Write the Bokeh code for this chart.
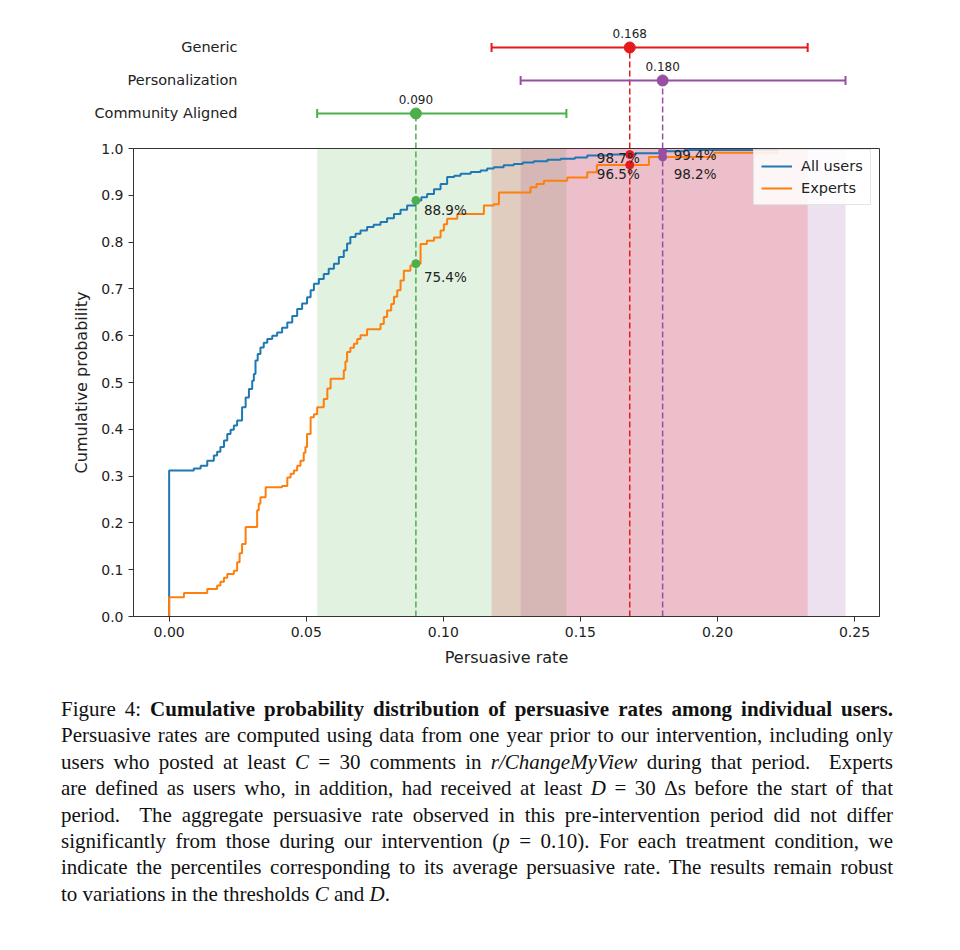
import numpy as np
from bokeh.plotting import figure
from bokeh.models import (Range1d, LinearAxis, FixedTicker, PrintfTickFormatter,
                          BoxAnnotation, Legend, LegendItem, Div)
from bokeh.layouts import column
from bokeh.core.properties import value
from bokeh.embed import file_html
from bokeh.resources import INLINE

# ---------------- data ----------------
conditions = ["Generic", "Personalization", "Community Aligned"]
cond_means = [0.168, 0.180, 0.090]
cond_ci_low = [0.1176, 0.1282, 0.0540]
cond_ci_high = [0.2329, 0.2467, 0.1449]
pct_all_users = [98.7, 99.4, 88.9]
pct_experts = [96.5, 98.2, 75.4]

all_x = [0.000, 0.000, 0.0090, 0.0115, 0.0139, 0.0163, 0.0175, 0.0187, 0.0200, 0.0212,
         0.0224, 0.0236, 0.0248, 0.0266, 0.0279, 0.0291, 0.0303, 0.0309, 0.0315, 0.0323,
         0.0333, 0.0345, 0.0358, 0.0376, 0.0394, 0.0412, 0.0431, 0.0449, 0.0467, 0.0485,
         0.0503, 0.0516, 0.0528, 0.0546, 0.0564, 0.0582, 0.0601, 0.0619, 0.0637, 0.0649,
         0.0661, 0.0680, 0.0698, 0.0722, 0.0746, 0.0771, 0.0795, 0.0820, 0.0844, 0.0868,
         0.0898, 0.0920, 0.0941, 0.0966, 0.0990, 0.1014, 0.1040, 0.1063, 0.1100, 0.1136,
         0.1160, 0.1184, 0.1220, 0.1257, 0.1290, 0.1330, 0.1380, 0.1428, 0.1480, 0.1525,
         0.1600, 0.1700, 0.1800, 0.1880, 0.2220]
all_y = [0.000, 0.312, 0.316, 0.322, 0.333, 0.344, 0.352, 0.362, 0.376, 0.390,
         0.399, 0.408, 0.419, 0.447, 0.468, 0.486, 0.504, 0.518, 0.547, 0.561,
         0.575, 0.585, 0.593, 0.600, 0.607, 0.617, 0.628, 0.642, 0.657, 0.669,
         0.682, 0.697, 0.711, 0.721, 0.732, 0.743, 0.754, 0.768, 0.782, 0.797,
         0.811, 0.818, 0.825, 0.832, 0.837, 0.843, 0.851, 0.860, 0.869, 0.878,
         0.889, 0.896, 0.903, 0.913, 0.924, 0.939, 0.942, 0.946, 0.950, 0.953,
         0.957, 0.960, 0.964, 0.967, 0.970, 0.973, 0.976, 0.978, 0.981, 0.985,
         0.987, 0.990, 0.994, 0.997, 1.000]

exp_x = [0.000, 0.000, 0.0054, 0.0139, 0.0175, 0.0187, 0.0200, 0.0212, 0.0236, 0.0248,
         0.0257, 0.0266, 0.0279, 0.0321, 0.0327, 0.0333, 0.0352, 0.0412, 0.0431, 0.0443,
         0.0455, 0.0467, 0.0479, 0.0491, 0.0497, 0.0503, 0.0516, 0.0528, 0.0540, 0.0564,
         0.0577, 0.0589, 0.0637, 0.0643, 0.0649, 0.0661, 0.0674, 0.0686, 0.0698, 0.0722,
         0.0771, 0.0783, 0.0795, 0.0810, 0.0820, 0.0832, 0.0844, 0.0856, 0.0880, 0.0898,
         0.0917, 0.0940, 0.0966, 0.0990, 0.1002, 0.1014, 0.1051, 0.1148, 0.1184, 0.1203,
         0.1318, 0.1340, 0.1367, 0.1452, 0.1525, 0.1560, 0.1750, 0.1988, 0.2220]
exp_y = [0.000, 0.041, 0.050, 0.059, 0.066, 0.074, 0.083, 0.091, 0.098, 0.116,
         0.135, 0.155, 0.191, 0.227, 0.241, 0.255, 0.276, 0.279, 0.297, 0.305,
         0.312, 0.322, 0.333, 0.350, 0.362, 0.390, 0.426, 0.432, 0.447, 0.465,
         0.487, 0.508, 0.526, 0.545, 0.565, 0.574, 0.583, 0.593, 0.601, 0.614,
         0.625, 0.640, 0.654, 0.668, 0.683, 0.697, 0.718, 0.739, 0.750, 0.754,
         0.796, 0.803, 0.810, 0.825, 0.838, 0.850, 0.860, 0.878, 0.881, 0.906,
         0.917, 0.924, 0.931, 0.938, 0.949, 0.965, 0.982, 0.991, 0.995]

x_ticks = [0.00, 0.05, 0.10, 0.15, 0.20, 0.25]
y_ticks = [0.0, 0.1, 0.2, 0.3, 0.4, 0.5, 0.6, 0.7, 0.8, 0.9, 1.0]

caption_lines = [
    'Figure 4: <b>Cumulative probability distribution of persuasive rates among individual users.</b>',
    'Persuasive rates are computed using data from one year prior to our intervention, including only',
    'users who posted at least <i>C</i> = 30 comments in <i>r/ChangeMyView</i> during that period.&nbsp; Experts',
    'are defined as users who, in addition, had received at least <i>D</i> = 30 &Delta;s before the start of that',
    'period.&nbsp; The aggregate persuasive rate observed in this pre-intervention period did not differ',
    'significantly from those during our intervention (<i>p</i> = 0.10). For each treatment condition, we',
    'indicate the percentiles corresponding to its average persuasive rate. The results remain robust',
    'to variations in the thresholds <i>C</i> and <i>D</i>.',
]

# ---------------- styles ----------------
cond_colors = ["#e41a1c", "#984ea3", "#4daf4a"]
FONT = "DejaVu Sans"
AX = "#333333"
TXT = "#222222"
X0, X1 = -0.0130, 0.2591
TOP_Y0, TOP_Y1 = -0.0606, 4.4242
rows = [3, 2, 1]                      # Generic, Personalization, Community Aligned

# ---------------- top panel: treatment means with CIs ----------------
top = figure(width=900, height=148, x_range=Range1d(X0, X1), y_range=Range1d(TOP_Y0, TOP_Y1),
             output_backend="svg", toolbar_location=None, x_axis_type=None, y_axis_type=None,
             min_border_left=133, min_border_right=21, min_border_top=0, min_border_bottom=0)
top.outline_line_color = None

tay = LinearAxis(ticker=FixedTicker(ticks=rows),
                 major_label_overrides={r: c for r, c in zip(rows, conditions)})
tay.axis_line_color = None
tay.major_tick_line_color = None
tay.minor_tick_line_color = None
tay.major_tick_out = 0
tay.major_label_standoff = -104
tay.major_label_text_font = FONT
tay.major_label_text_font_size = "14.5px"
tay.major_label_text_color = TXT
top.add_layout(tay, "left")

top.segment(x0=cond_means, y0=[TOP_Y0] * 3, x1=cond_means, y1=rows, line_color=cond_colors,
            line_dash="6 3", line_width=1.5)
top.segment(x0=cond_ci_low, y0=rows, x1=cond_ci_high, y1=rows, line_color=cond_colors, line_width=2)
top.scatter(x=cond_ci_low + cond_ci_high, y=rows + rows, marker="dash", angle=np.pi / 2, size=9,
            line_color=cond_colors + cond_colors, line_width=2)
top.scatter(x=cond_means, y=rows, size=11, color=cond_colors)
top.text(x=cond_means, y=rows, text=[f"{m:.3f}" for m in cond_means], text_align="center",
         text_baseline="middle", y_offset=-14, text_font=value(FONT), text_font_size="12px",
         text_color=TXT)

# ---------------- main panel: CDFs ----------------
p = figure(width=900, height=531, x_range=Range1d(X0, X1), y_range=Range1d(0, 1),
           output_backend="svg", toolbar_location=None, x_axis_type=None, y_axis_type=None,
           min_border_left=133, min_border_right=21, min_border_top=8, min_border_bottom=55,
           margin=(-8, 0, 0, 0))
p.border_fill_alpha = 0
p.background_fill_color = "white"
p.outline_line_color = AX
p.outline_line_width = 1

def style_axis(ax):
    ax.axis_line_color = AX
    ax.major_tick_line_color = AX
    ax.major_tick_out = 5
    ax.major_tick_in = 0
    ax.minor_tick_line_color = None
    ax.major_label_text_font = FONT
    ax.major_label_text_font_size = "14px"
    ax.major_label_text_color = TXT
    ax.axis_label_text_font = FONT
    ax.axis_label_text_font_size = "16px"
    ax.axis_label_text_font_style = "normal"
    ax.axis_label_text_color = TXT

xaxis = LinearAxis(ticker=FixedTicker(ticks=x_ticks), formatter=PrintfTickFormatter(format="%.2f"),
                   axis_label="Persuasive rate")
style_axis(xaxis)
xaxis.axis_label_standoff = 8
p.add_layout(xaxis, "below")

yaxis = LinearAxis(ticker=FixedTicker(ticks=y_ticks), formatter=PrintfTickFormatter(format="%.1f"),
                   axis_label="Cumulative probability")
style_axis(yaxis)
yaxis.axis_label_standoff = 7
p.add_layout(yaxis, "left")

# confidence-interval bands
for lo, hi, c in zip(cond_ci_low[::-1], cond_ci_high[::-1], cond_colors[::-1]):
    p.add_layout(BoxAnnotation(left=lo, right=hi, bottom=0, top=1, fill_color=c, fill_alpha=0.17,
                               line_color=None, level="underlay"))

# CDF curves
r_all = p.step(x=all_x, y=all_y, mode="after", line_color="#1f77b4", line_width=2)
r_exp = p.step(x=exp_x, y=exp_y, mode="after", line_color="#ff7f0e", line_width=2)

# dashed verticals
p.segment(x0=cond_means, y0=[0] * 3, x1=cond_means, y1=[1] * 3, line_color=cond_colors,
          line_dash="6 3", line_width=1.5)

# points on curves
p.scatter(x=cond_means, y=[v / 100 for v in pct_all_users], size=8, color=cond_colors)
p.scatter(x=cond_means, y=[v / 100 for v in pct_experts], size=8, color=cond_colors)

# percentile labels
label_style = {
    0: dict(align="right", xo=10, yo=(3, 9)),
    1: dict(align="left", xo=11, yo=(4, 17)),
    2: dict(align="left", xo=8, yo=(10, 13)),
}
for i in range(3):
    st = label_style[i]
    for vals, yo in ((pct_all_users, st["yo"][0]), (pct_experts, st["yo"][1])):
        p.text(x=[cond_means[i]], y=[vals[i] / 100], text=[f"{vals[i]:.1f}%"],
               text_align=st["align"], text_baseline="middle", x_offset=st["xo"], y_offset=yo,
               text_font=value(FONT), text_font_size="13.5px", text_color=TXT)

legend = Legend(items=[LegendItem(label="All users", renderers=[r_all]),
                       LegendItem(label="Experts", renderers=[r_exp])],
                location=(620, 411))
legend.label_text_font = FONT
legend.label_text_font_size = "14.5px"
legend.label_text_color = TXT
legend.border_line_color = "#cccccc"
legend.background_fill_alpha = 0.85
legend.glyph_width = 31
legend.glyph_height = 18
legend.label_height = 18
legend.label_standoff = 9
legend.spacing = 4
legend.padding = 7
legend.margin = 0
p.add_layout(legend)

rows_html = []
for i, line in enumerate(caption_lines):
    last = i == len(caption_lines) - 1
    al = "left" if last else "justify"
    rows_html.append(f'<div style="white-space:nowrap;text-align:{al};text-align-last:{al};">{line}</div>')
html = ('<div style="margin-left:56px;width:832px;padding-top:20px;font-family:\'Liberation Serif\',serif;'
        'font-size:21px;line-height:26.4px;color:#111;">' + "".join(rows_html) + '</div>')
cap = Div(text=html, width=900, height=260)

layout = column(top, p, cap, spacing=0)
open("out.html", "w").write(file_html(layout, INLINE))
